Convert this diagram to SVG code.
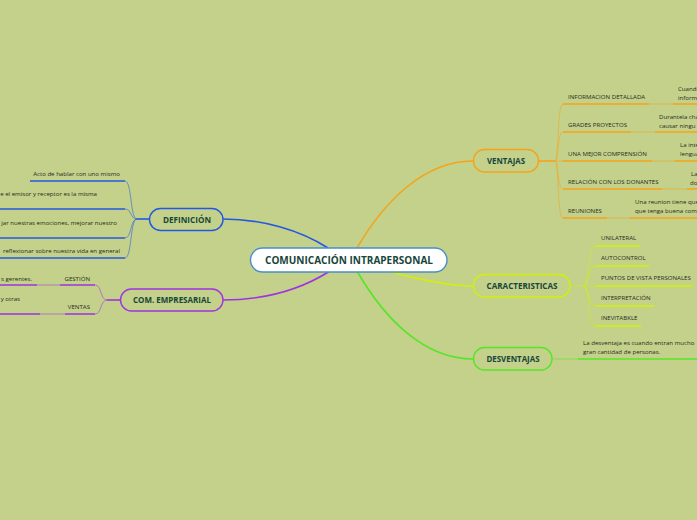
<svg xmlns="http://www.w3.org/2000/svg" width="697" height="520" viewBox="0 0 697 520">
<style>
.bg{fill:#c3d18b}
.nt{font-family:"Open Sans","Liberation Sans",sans-serif;font-weight:bold;fill:#17463a;text-anchor:middle}
.st{font-family:"Open Sans","Liberation Sans",sans-serif;font-size:6.1px;fill:#2a2a1c}
.th{fill:none;stroke-width:1.6}
.tn{fill:none;stroke-width:1;stroke-opacity:0.55}
.o{stroke:#f5a31a}.y{stroke:#d2f00c}.g{stroke:#55e626}.b{stroke:#2458e0}.p{stroke:#a033e0}
.box{stroke-width:1.4;fill:#c3d18b}
</style>
<rect class="bg" x="0" y="0" width="697" height="520"/>
<g id="connectors">
<path class="th b" d="M328,248 C300,230 262,219 223,219"/>
<path class="th p" d="M330,271 C300,290 262,300 223,300"/>
<path class="th o" d="M357,248 C385,200 425,161 473,161"/>
<path class="th y" d="M388,271 C420,280 448,286 473,286"/>
<path class="th g" d="M357,271 C385,320 425,359 473,359"/>
<!-- ventajas -->
<path class="th o" d="M538,161 H555"/>
<path class="tn o" d="M555,161 C559,161 557,104 563,104"/>
<path class="tn o" d="M555,161 C559,161 557,132 563,132"/>
<path class="tn o" d="M555,161 H563"/>
<path class="tn o" d="M555,161 C559,161 557,189 563,189"/>
<path class="tn o" d="M555,161 C559,161 557,218 563,218"/>
<path class="th o" d="M563,104 H649 M673,104 H697 M563,132 H631 M655,132 H697 M563,161 H652 M675,161 H697 M563,189 H662 M687,189 H697 M563,218 H607 M630,218 H697"/>
<path class="tn o" d="M649,104 H673 M631,132 H655 M652,161 H675 M662,189 H687 M607,218 H630"/>
<!-- caracteristicas -->
<path class="tn y" d="M570,286 H595"/>
<path class="tn y" d="M583,286 C590,286 588,246 595,246"/>
<path class="tn y" d="M583,286 C590,286 588,266 595,266"/>
<path class="tn y" d="M583,286 C590,286 588,306 595,306"/>
<path class="tn y" d="M583,286 C590,286 588,326 595,326"/>
<path class="th y" d="M595,246 H640 M595,266 H649 M595,286 H693 M595,306 H654 M595,326 H641"/>
<!-- desventajas -->
<path class="tn g" d="M552,359 H578"/>
<path class="th g" d="M578,359 H697"/>
<!-- definicion -->
<path class="th b" d="M149,219 H137"/>
<path class="tn b" d="M137,219 C130,219 132,181 125,181"/>
<path class="tn b" d="M137,219 C130,219 132,209 125,209"/>
<path class="tn b" d="M137,219 C130,219 132,238 125,238"/>
<path class="tn b" d="M137,219 C130,219 132,258 125,258"/>
<path class="th b" d="M30,181 H125 M0,209 H125 M0,238 H125 M0,258 H125"/>
<!-- com empresarial -->
<path class="th p" d="M120,300 H107"/>
<path class="tn p" d="M107,300 C100,300 102,285 95,285"/>
<path class="tn p" d="M107,300 C100,300 102,314 95,314"/>
<path class="th p" d="M60,285 H95 M0,285 H37 M65,314 H95 M0,314 H40"/>
<path class="tn p" d="M37,285 H60 M40,314 H65"/>
</g>
<g id="center">
<rect x="250.5" y="248" width="196.5" height="24" rx="12" fill="#ffffff" stroke="#4a8fcc" stroke-width="1.4"/>
<text class="nt" x="349" y="263.5" font-size="10" textLength="168" lengthAdjust="spacingAndGlyphs">COMUNICACIÓN INTRAPERSONAL</text>
</g>
<g id="ventajas">
<rect class="box o" x="473.5" y="149.5" width="65" height="22.5" rx="11"/>
<text class="nt" x="506" y="164.3" font-size="8.6" textLength="38" lengthAdjust="spacingAndGlyphs">VENTAJAS</text>
</g>
<g id="caracteristicas">
<rect class="box y" x="473.5" y="274.5" width="96.5" height="22.5" rx="11"/>
<text class="nt" x="522" y="289.3" font-size="8.6" textLength="71" lengthAdjust="spacingAndGlyphs">CARACTERISTICAS</text>
</g>
<g id="desventajas">
<rect class="box g" x="473.5" y="347.5" width="78.5" height="22.5" rx="11"/>
<text class="nt" x="513" y="362.3" font-size="8.6" textLength="53" lengthAdjust="spacingAndGlyphs">DESVENTAJAS</text>
</g>
<g id="definicion">
<rect class="box b" x="149.5" y="208.5" width="73.5" height="22" rx="11"/>
<text class="nt" x="187" y="222.8" font-size="8.6" textLength="48" lengthAdjust="spacingAndGlyphs">DEFINICIÓN</text>
</g>
<g id="com-empresarial">
<rect class="box p" x="120.5" y="289" width="102.5" height="22" rx="11"/>
<text class="nt" x="172" y="303.3" font-size="8.6" textLength="78" lengthAdjust="spacingAndGlyphs">COM. EMPRESARIAL</text>
</g>
<g id="ventajas-items">
<text class="st" x="568" y="99">INFORMACION DETALLADA</text>
<text class="st" x="678" y="90.5">Cuando</text>
<text class="st" x="678" y="99.5">informa</text>
<text class="st" x="568" y="127">GRADES PROYECTOS</text>
<text class="st" x="659" y="119">Durantela cha</text>
<text class="st" x="659" y="128">causar ningu</text>
<text class="st" x="568" y="156">UNA MEJOR COMPRENSIÓN</text>
<text class="st" x="680" y="147">La inte</text>
<text class="st" x="680" y="156">lengua</text>
<text class="st" x="568" y="184">RELACIÓN CON LOS DONANTES</text>
<text class="st" x="691" y="176">La</text>
<text class="st" x="690" y="185">do</text>
<text class="st" x="568" y="213">REUNIONES</text>
<text class="st" x="635" y="204">Una reunion tiene que</text>
<text class="st" x="635" y="213">que tenga buena com</text>
</g>
<g id="caracteristicas-items">
<text class="st" x="601" y="240">UNILATERAL</text>
<text class="st" x="601" y="260">AUTOCONTROL</text>
<text class="st" x="601" y="280">PUNTOS DE VISTA PERSONALES</text>
<text class="st" x="601" y="300">INTERPRETACIÓN</text>
<text class="st" x="601" y="320">INEVITABKLE</text>
</g>
<g id="desventajas-items">
<text class="st" x="583" y="345">La desventaja   es cuando entran mucho</text>
<text class="st" x="583" y="354">gran cantidad de personas.</text>
</g>
<g id="definicion-items">
<text class="st" x="120" y="176" text-anchor="end">Acto de hablar con uno mismo</text>
<text class="st" x="97" y="196" text-anchor="end">e el emisor y receptor es la misma</text>
<text class="st" x="117" y="225" text-anchor="end">jar  nuestras emociones, mejorar nuestro</text>
<text class="st" x="120" y="253" text-anchor="end">reflexionar sobre nuestra vida en general</text>
</g>
<g id="com-empresarial-items">
<text class="st" x="90" y="281" text-anchor="end">GESTIÓN</text>
<text class="st" x="32" y="281" text-anchor="end">s gerentes.</text>
<text class="st" x="90" y="309" text-anchor="end">VENTAS</text>
<text class="st" x="20" y="301" text-anchor="end">y otras</text>
</g>
</svg>
